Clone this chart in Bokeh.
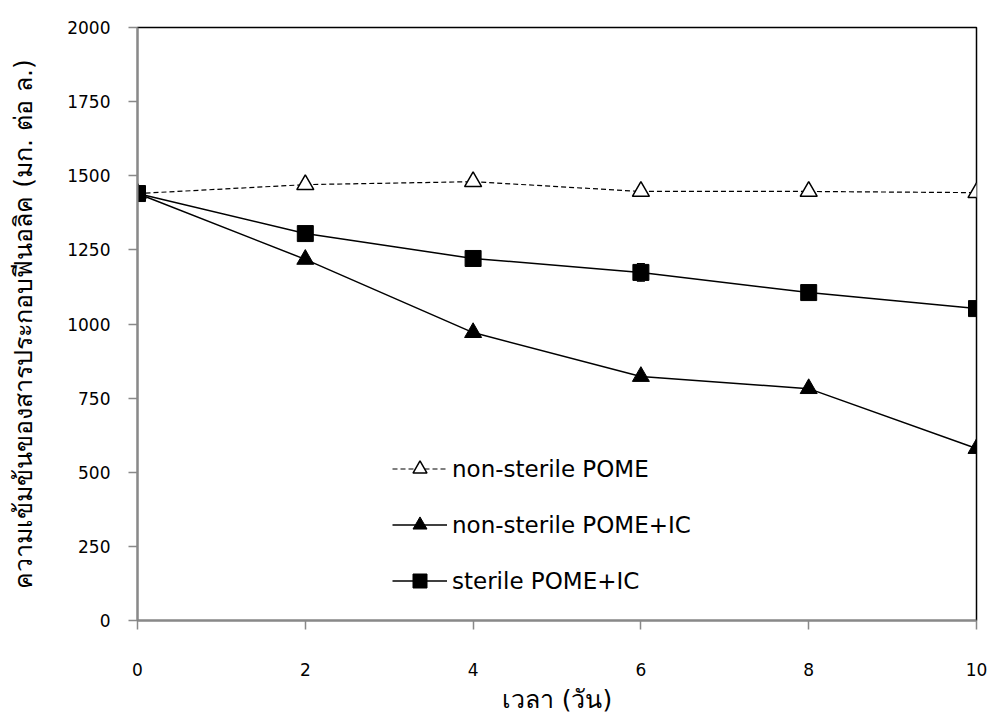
from bokeh.plotting import figure
from bokeh.models import ColumnDataSource, Whisker, Legend, LegendItem, FixedTicker, Range1d
from bokeh.embed import file_html
from bokeh.resources import INLINE

days = [0, 2, 4, 6, 8, 10]
nonsterile_pome = [1440, 1470, 1480, 1447, 1447, 1443]
nonsterile_pome_ic = [1440, 1218, 971, 823, 782, 580]
sterile_pome_ic = [1440, 1305, 1221, 1174, 1106, 1052]
sterile_err = [0, 0, 0, 30, 0, 0]
y_ticks = [0, 250, 500, 750, 1000, 1250, 1500, 1750, 2000]
x_ticks = [0, 2, 4, 6, 8, 10]

FONT = "DejaVu Sans"

p = figure(width=991, height=722, output_backend="svg", toolbar_location=None,
           x_range=Range1d(0, 10), y_range=Range1d(0, 2000),
           min_border_left=137, min_border_right=15, min_border_top=27, min_border_bottom=102)

p.grid.visible = False
p.background_fill_color = "white"
p.border_fill_color = "white"
p.outline_line_color = "black"
p.outline_line_width = 1.5

for ax in (p.xaxis[0], p.yaxis[0]):
    ax.axis_line_color = "#898989"
    ax.axis_line_width = 2
    ax.major_tick_line_color = "#898989"
    ax.major_tick_line_width = 1.5
    ax.major_tick_out = 9
    ax.major_tick_in = 0
    ax.minor_tick_line_color = None
    ax.major_label_text_font = FONT
    ax.major_label_text_font_size = "17px"
    ax.major_label_text_color = "black"
    ax.axis_label_text_font = FONT
    ax.axis_label_text_font_size = "25px"
    ax.axis_label_text_font_style = "normal"
    ax.axis_label_text_color = "black"

p.xaxis.ticker = FixedTicker(ticks=x_ticks)
p.yaxis.ticker = FixedTicker(ticks=y_ticks)
p.xaxis.major_label_standoff = 33
p.yaxis.major_label_standoff = 18
p.xaxis.axis_label = "เวลา (วัน)"
p.yaxis.axis_label = "ความเข้มข้นของสารประกอบฟีนอลิค (มก. ต่อ ล.)"
p.xaxis.axis_label_standoff = 6
p.yaxis.axis_label_standoff = 26

src = ColumnDataSource(dict(x=days, a=nonsterile_pome, b=nonsterile_pome_ic, c=sterile_pome_ic,
                            up=[v + e for v, e in zip(sterile_pome_ic, sterile_err)],
                            lo=[v - e for v, e in zip(sterile_pome_ic, sterile_err)]))

l1 = p.line("x", "a", source=src, line_color="black", line_width=1.2, line_dash="5 3")
m1 = p.scatter("x", "a", source=src, marker="triangle", size=17, fill_color="white",
               line_color="black", line_width=1.5)
l2 = p.line("x", "b", source=src, line_color="black", line_width=1.5)
m2 = p.scatter("x", "b", source=src, marker="triangle", size=17, fill_color="black",
               line_color="black")
l3 = p.line("x", "c", source=src, line_color="black", line_width=1.5)
w = Whisker(source=src, base="x", upper="up", lower="lo", line_color="black", line_width=1)
w.upper_head.size = 8
w.lower_head.size = 8
p.add_layout(w)
m3 = p.scatter("x", "c", source=src, marker="square", size=16, fill_color="black",
               line_color="black")

legend = Legend(items=[
    LegendItem(label="non-sterile POME", renderers=[l1, m1]),
    LegendItem(label="non-sterile POME+IC", renderers=[l2, m2]),
    LegendItem(label="sterile POME+IC", renderers=[l3, m3]),
], location=(255, 22))
legend.background_fill_alpha = 0
legend.border_line_color = None
legend.label_text_font = FONT
legend.label_text_font_size = "23px"
legend.label_text_color = "black"
legend.glyph_width = 55
legend.glyph_height = 35
legend.label_height = 35
legend.spacing = 21
legend.label_standoff = 5
p.add_layout(legend)

open("out.html", "w").write(file_html(p, INLINE))
